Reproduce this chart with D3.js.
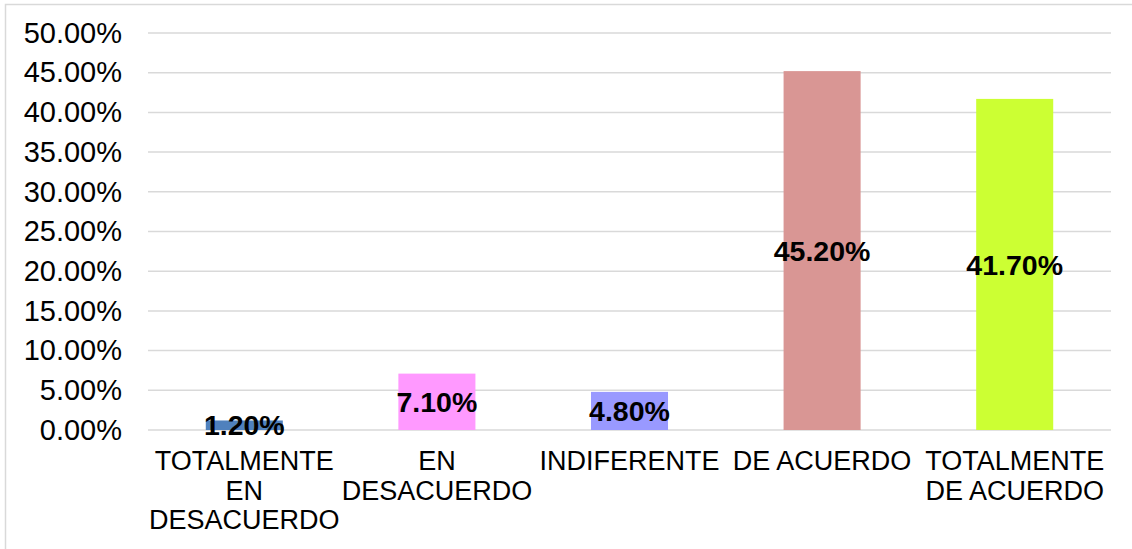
<!DOCTYPE html>
<html>
<head>
<meta charset="utf-8">
<script src="https://cdn.jsdelivr.net/npm/d3@7"></script>
<style>
  body { margin: 0; background: #fff; }
  svg { display: block; font-family: "Liberation Sans", Arial, sans-serif; }
</style>
</head>
<body>
<svg id="chart" width="1132" height="549"></svg>
<script>
// chart data
const categories = ['TOTALMENTE EN DESACUERDO', 'EN DESACUERDO', 'INDIFERENTE', 'DE ACUERDO', 'TOTALMENTE DE ACUERDO'];
const values = [0.012, 0.071, 0.048, 0.452, 0.417];
const barColors = ['#4f81bd', '#ff99ff', '#9999ff', '#d99694', '#ccff33'];
const yTicks = [0, 0.05, 0.10, 0.15, 0.20, 0.25, 0.30, 0.35, 0.40, 0.45, 0.50];

const svg = d3.select('#chart');

// outer frame (right/bottom edges fall outside the picture)
svg.append('rect')
  .attr('x', 5.5).attr('y', 4.5)
  .attr('width', 1140).attr('height', 560)
  .attr('fill', 'none')
  .attr('stroke', '#d9d9d9')
  .attr('stroke-width', 1.5);

const x = d3.scaleBand()
  .domain(categories)
  .range([148, 1111])
  .paddingInner(0.6)
  .paddingOuter(0.3);

const y = d3.scaleLinear()
  .domain([0, 0.5])
  .range([430, 33]);

// gridlines
svg.append('g')
  .selectAll('line')
  .data(yTicks)
  .enter().append('line')
  .attr('x1', 148).attr('x2', 1111)
  .attr('y1', d => y(d)).attr('y2', d => y(d))
  .attr('stroke', '#d9d9d9')
  .attr('stroke-width', 1.5);

// y axis labels
const yAxis = d3.axisLeft(y)
  .tickValues(yTicks)
  .tickFormat(d3.format('.2%'))
  .tickSize(0)
  .tickPadding(0);

svg.append('g')
  .attr('transform', 'translate(122,0)')
  .call(yAxis)
  .call(g => g.select('.domain').remove())
  .selectAll('text')
  .attr('font-size', 29)
  .attr('font-family', '"Liberation Sans", Arial, sans-serif')
  .attr('fill', '#000');

// bars
svg.append('g')
  .selectAll('rect')
  .data(values)
  .enter().append('rect')
  .attr('x', (d, i) => x(categories[i]))
  .attr('y', d => y(d))
  .attr('width', x.bandwidth())
  .attr('height', d => y(0) - y(d))
  .attr('fill', (d, i) => barColors[i]);

// data labels
svg.append('g')
  .selectAll('text')
  .data(values)
  .enter().append('text')
  .attr('x', (d, i) => x(categories[i]) + x.bandwidth() / 2)
  .attr('y', d => (y(d) + y(0)) / 2)
  .attr('dy', '0.36em')
  .attr('text-anchor', 'middle')
  .attr('font-size', 28.5)
  .attr('font-weight', 'bold')
  .attr('fill', '#000')
  .text(d => d3.format('.2%')(d));

// category labels, wrapped to the band step
const xAxis = d3.axisBottom(x).tickSize(0).tickPadding(0);
const xg = svg.append('g')
  .attr('transform', 'translate(0,430)')
  .call(xAxis);
xg.select('.domain').remove();
xg.selectAll('text')
  .attr('font-size', 27)
  .attr('font-family', '"Liberation Sans", Arial, sans-serif')
  .attr('fill', '#000')
  .attr('y', 0)
  .attr('dy', null)
  .call(wrap, x.step());

function wrap(texts, width) {
  texts.each(function() {
    const text = d3.select(this);
    const words = text.text().split(/\s+/);
    let line = [];
    let lineNo = 0;
    text.text(null);
    let tspan = text.append('tspan').attr('x', 0).attr('y', 40);
    words.forEach(w => {
      line.push(w);
      tspan.text(line.join(' '));
      if (tspan.node().getComputedTextLength() > width && line.length > 1) {
        line.pop();
        tspan.text(line.join(' '));
        line = [w];
        lineNo++;
        tspan = text.append('tspan').attr('x', 0).attr('y', 40 + lineNo * 29.5).text(w);
      }
    });
  });
}
</script>
</body>
</html>
